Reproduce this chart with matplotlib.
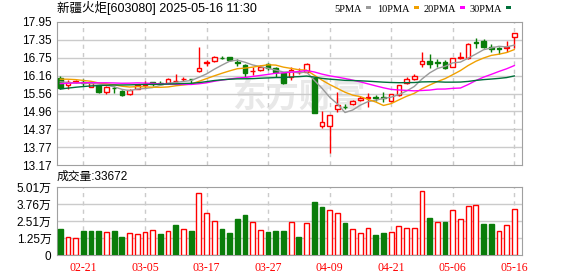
import matplotlib
matplotlib.use("Agg")
import matplotlib.pyplot as plt
from matplotlib.patches import Rectangle
import numpy as np
import pandas as pd

plt.rcParams["font.family"] = ["Liberation Sans", "Noto Sans CJK SC"]

title = "新疆火炬[603080] 2025-05-16 11:30"

days = pd.bdate_range("2025-02-18", "2025-05-16")
days = days.drop(pd.to_datetime(["2025-04-04", "2025-05-01", "2025-05-02", "2025-05-05"]))
dates = days.strftime("%m-%d").tolist()

open_ = [16.07, 15.84, 15.93, 15.96, 15.79, 15.81, 15.60, 15.75, 15.65, 15.54,
         15.72, 15.86, 15.93, 15.91, 15.90, 15.97, 16.03, 16.05, 16.30, 16.58,
         16.63, 16.76, 16.77, 16.61, 16.51, 16.30, 16.35, 16.54, 16.40, 16.24,
         16.12, 16.27, 16.29, 16.07, 14.47, 14.48, 15.03, 15.12, 15.20, 15.34,
         15.41, 15.44, 15.45, 15.31, 15.51, 15.90, 16.04, 16.54, 16.66, 16.60,
         16.62, 16.46, 16.76, 16.74, 17.28, 17.33, 17.12, 17.08, 17.08, 17.44]
high = [16.16, 16.01, 16.01, 16.03, 15.98, 15.84, 15.80, 15.81, 15.67, 15.70,
        15.88, 15.98, 15.96, 15.99, 16.08, 16.20, 16.10, 16.06, 17.12, 16.68,
        16.80, 16.81, 16.79, 16.70, 16.55, 16.44, 16.50, 16.58, 16.44, 16.28,
        16.46, 16.40, 16.57, 16.07, 14.98, 14.84, 15.60, 15.20, 15.33, 15.47,
        15.57, 15.51, 15.60, 15.55, 15.86, 16.10, 16.22, 16.94, 16.87, 16.72,
        16.68, 16.76, 16.94, 17.26, 17.43, 17.38, 17.20, 17.12, 17.31, 17.57]
low = [15.70, 15.70, 15.90, 15.80, 15.77, 15.57, 15.56, 15.57, 15.48, 15.52,
       15.70, 15.76, 15.82, 15.84, 15.88, 15.90, 15.99, 15.90, 16.28, 16.48,
       16.60, 16.70, 16.66, 16.49, 16.12, 16.18, 16.32, 16.36, 16.12, 15.88,
       16.01, 16.20, 16.27, 14.90, 14.40, 13.58, 14.95, 15.04, 15.18, 15.30,
       15.12, 15.31, 15.29, 15.28, 15.49, 15.87, 16.02, 16.46, 16.42, 16.45,
       16.38, 16.44, 16.71, 16.70, 17.07, 17.09, 16.96, 16.87, 16.94, 17.09]
close = [15.73, 15.95, 15.99, 15.92, 15.90, 15.60, 15.77, 15.73, 15.50, 15.68,
         15.86, 15.87, 15.88, 15.87, 16.03, 15.99, 16.05, 16.03, 16.40, 16.60,
         16.77, 16.74, 16.68, 16.59, 16.24, 16.32, 16.46, 16.40, 16.29, 15.92,
         16.35, 16.29, 16.55, 14.90, 14.60, 14.84, 15.18, 15.10, 15.32, 15.42,
         15.43, 15.41, 15.40, 15.53, 15.84, 16.04, 16.16, 16.65, 16.55, 16.58,
         16.40, 16.74, 16.78, 17.21, 17.26, 17.12, 17.04, 17.06, 17.10, 17.57]
volume = [19100, 13000, 12200, 17600, 17600, 17600, 16900, 17600, 13200, 15900,
          15400, 16900, 18100, 15400, 17400, 22000, 18800, 17600, 46000, 31300,
          24700, 19100, 16100, 26400, 29300, 24200, 18100, 16900, 17600, 17600,
          24200, 13200, 23500, 38900, 35200, 33000, 30800, 23700, 19100, 16100,
          19800, 14700, 16400, 16900, 21300, 19800, 19800, 46900, 27100, 24200,
          24400, 33500, 26400, 35900, 36700, 23000, 23000, 17600, 22000, 33672]

# closes before the window (not shown), estimated so the MA lines start where the picture's do
prior_close = [15.05, 15.12, 15.20, 15.28, 15.30, 15.38, 15.45, 15.52, 15.58, 15.62,
               15.70, 15.78, 15.82, 15.75, 15.80, 15.72, 15.85, 15.68, 15.62, 15.68,
               15.98, 16.12, 16.20, 16.18, 16.17, 16.05, 16.08, 15.94, 15.95]

price_ticks = [13.17, 13.77, 14.37, 14.96, 15.56, 16.16, 16.75, 17.35, 17.95]
vol_max = 50100
ma_periods = [5, 10, 20, 30]
ma_colors = ["#9a9a9a", "#f0a000", "#ff00ff", "#00703a"]

RED = "#ff0000"
GREEN = "#0a7d0a"
GRID = "#cbcbcb"
EDGE = "#a0a0a0"

W, H = 578, 276
fig = plt.figure(figsize=(W / 100, H / 100), dpi=100)
ax = fig.add_axes([57 / W, 1 - 165 / H, 465 / W, 143 / H])
axv = fig.add_axes([57 / W, 1 - 255 / H, 465 / W, 68 / H])

x = np.arange(len(close))
all_close = pd.Series(prior_close + close)
tick_idx = list(range(3, len(dates), 8))

# candles
for i in x:
    o, h, l, c = open_[i], high[i], low[i], close[i]
    up = c > o
    col = RED if up else GREEN
    ax.vlines(i, l, h, color=col, lw=1, zorder=3)
    ax.add_patch(Rectangle((i - 0.3, min(o, c)), 0.6, max(abs(c - o), 0.005),
                           facecolor="white" if up else col, edgecolor=col,
                           lw=1, zorder=3))

# moving averages
for n, col in zip(ma_periods, ma_colors):
    ma = all_close.rolling(n).mean().to_numpy()[-len(close):]
    ax.plot(x, ma, color=col, lw=1, zorder=4)

ax.text(0.52, 0.47, "东方财富", transform=ax.transAxes, ha="center", va="center",
        fontsize=24, fontweight="bold", color="#e8e8e8", zorder=0,
        family="Noto Sans CJK SC")

# volume
prev = [prior_close[-1]] + close[:-1]
for i in x:
    up = close[i] >= prev[i]
    col = RED if up else GREEN
    axv.bar(i, volume[i], width=0.62, facecolor="white" if up else col,
            edgecolor=col, lw=1, zorder=3)

for a in (ax, axv):
    a.set_xlim(-0.43, len(close))
    for s in a.spines.values():
        s.set_color(EDGE)
    a.tick_params(length=0, labelsize=8.5, pad=4, colors="black")
    a.set_xticks(tick_idx)
    for t in tick_idx:
        a.axvline(t, color=GRID, lw=1, ls=(0, (3, 3)), zorder=1)

ax.set_ylim(price_ticks[0], price_ticks[-1])
ax.set_yticks(price_ticks)
ax.set_yticklabels([f"{t:.2f}" for t in price_ticks])
ax.set_xticklabels([])
for t in price_ticks[1:-1]:
    ax.axhline(t, color=GRID, lw=1, zorder=1)

vt = np.linspace(0, vol_max, 5)
axv.set_ylim(0, vol_max)
axv.set_yticks(vt)
axv.set_yticklabels(["0"] + [f"{round(v / 1e4 + 1e-9, 2):.2f}万" for v in vt[1:]])
for v in vt[1:-1]:
    axv.axhline(v, color=GRID, lw=1, zorder=1)
axv.set_xticklabels([dates[t] for t in tick_idx], color=RED, fontsize=8.5,
                    family="Liberation Serif")
axv.tick_params(axis="x", pad=5)

# header texts
fig.text(57 / W, 1 - 8 / H, title, ha="left", va="center", fontsize=9,
         family=["Liberation Sans", "Noto Sans CJK SC"])
fig.text(57 / W, 1 - 177 / H, f"成交量:{volume[-1]}", ha="left", va="center",
         fontsize=8.5, family=["Liberation Sans", "Noto Sans CJK SC"])

legend_right = [362, 410, 456, 502]
for n, col, r in zip(ma_periods, ma_colors, legend_right):
    fig.text(r / W, 1 - 9 / H, f"{n}PMA", ha="right", va="center", fontsize=7.5,
             family="Liberation Serif")
    fig.add_artist(Rectangle(((r + 4) / W, 1 - 9 / H), 5 / W, 3 / H,
                             transform=fig.transFigure, color=col, lw=0))

fig.savefig("out.png", dpi=100)
